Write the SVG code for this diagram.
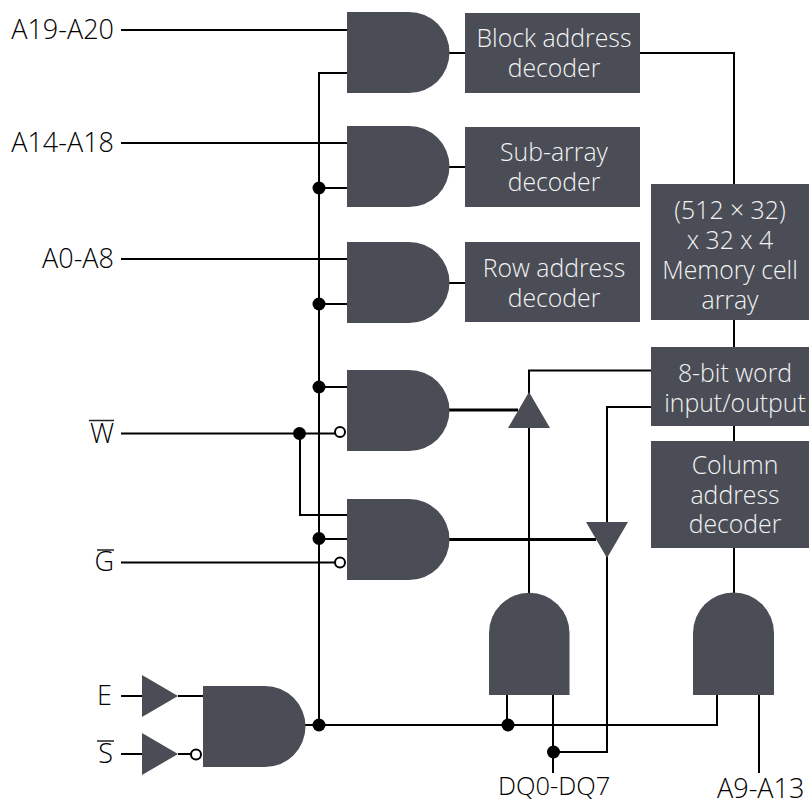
<svg xmlns="http://www.w3.org/2000/svg" width="809" height="799" viewBox="0 0 809 799">
<style>
.b{fill:#4a4d55}
.w{fill:none;stroke:#000;stroke-width:2;stroke-linejoin:miter}
.k{stroke-width:3}
.d{fill:#000}
.o{fill:#fff;stroke:#000;stroke-width:2}
text{font-family:"Open Sans","Noto Sans",sans-serif;font-size:24.800px;font-weight:300}
.t{fill:#f2f3f4;text-anchor:middle}
.l{fill:#000;text-anchor:end;font-size:27px}
.n{fill:#000;font-size:25.500px}
.m{fill:#000;font-size:27px}
.ov{fill:none;stroke:#222;stroke-width:1.5}
</style>
<defs>
<path id="andH" class="b" d="M0 0H62A40.500 40.500 0 0 1 62 81H0Z"/>
</defs>
<rect width="809" height="799" fill="#fff"/>
<g id="connectors">
<path class="w" d="M121 30H347"/>
<path class="w" d="M347 73H319V726"/>
<path class="w" d="M121 143H347"/>
<path class="w" d="M319 188H347"/>
<path class="w" d="M121 259H347"/>
<path class="w" d="M319 304H347"/>
<path class="w" d="M319 387H347"/>
<path class="w" d="M121 433.500H335"/>
<path class="w" d="M300 433V515H347"/>
<path class="w" d="M319 539H347"/>
<path class="w" d="M121 562.500H335"/>
<path class="w" d="M449 53H465"/>
<path class="w" d="M449 167H465"/>
<path class="w" d="M449 283H465"/>
<path class="w" d="M640 53H734V184"/>
<path class="w" d="M734 320V348"/>
<path class="w" d="M734 425V441"/>
<path class="w" d="M734 548V593"/>
<path class="w" d="M651 370.500H529V593"/>
<path class="w" d="M651 407H607V752H554"/>
<path class="w k" d="M449 410H518"/>
<path class="w k" d="M449 539.500H596"/>
<path class="w" d="M121 696H143"/>
<path class="w" d="M178 696H204"/>
<path class="w" d="M121 754H143"/>
<path class="w" d="M178 754H192"/>
<path class="w" d="M305 725H717V695"/>
<path class="w" d="M507 695V725"/>
<path class="w" d="M553 695V773"/>
<path class="w" d="M759 695V773"/>
</g>
<g id="gate-1"><use href="#andH" x="347" y="12"/></g>
<g id="gate-2"><use href="#andH" x="347" y="126"/></g>
<g id="gate-3"><use href="#andH" x="347" y="242"/></g>
<g id="gate-4"><use href="#andH" x="347" y="370"/></g>
<g id="gate-5"><use href="#andH" x="347" y="499"/></g>
<g id="gate-6"><path class="b" d="M203 686H265A40.500 40.500 0 0 1 265 767H203Z"/></g>
<g id="gate-7"><path class="b" d="M489 695V633A40 40 0 0 1 569.500 633V695Z"/></g>
<g id="gate-8"><path class="b" d="M693 695V633A40.500 40.500 0 0 1 774 633V695Z"/></g>
<g id="buffer-up"><path class="b" d="M529 392L508 428H550Z"/></g>
<g id="buffer-down"><path class="b" d="M586 522H628L607 558Z"/></g>
<g id="buffer-e"><path class="b" d="M142 675L178 696L142 717Z"/></g>
<g id="buffer-s"><path class="b" d="M142 733L178 754L142 775Z"/></g>
<g id="block-address"><rect class="b" x="465" y="13" width="175" height="80"/><text class="t" x="554" y="47">Block address</text><text class="t" x="554" y="77">decoder</text></g>
<g id="sub-array"><rect class="b" x="465" y="127" width="175" height="80"/><text class="t" x="554" y="161">Sub-array</text><text class="t" x="554" y="191">decoder</text></g>
<g id="row-address"><rect class="b" x="465" y="242" width="175" height="80"/><text class="t" x="554" y="277">Row address</text><text class="t" x="554" y="307">decoder</text></g>
<g id="memory"><rect class="b" x="651" y="184" width="158" height="136"/><text class="t" x="730" y="219">(512 × 32)</text><text class="t" x="730" y="249">x 32 x 4</text><text class="t" x="730" y="279">Memory cell</text><text class="t" x="730" y="309">array</text></g>
<g id="word-io"><rect class="b" x="651" y="347" width="158" height="79"/><text class="t" x="735" y="382">8-bit word</text><text class="t" x="735" y="412">input/output</text></g>
<g id="column"><rect class="b" x="651" y="441" width="158" height="107"/><text class="t" x="735" y="474">Column</text><text class="t" x="735" y="504">address</text><text class="t" x="735" y="533">decoder</text></g>
<g id="junctions">
<circle class="d" cx="319" cy="188" r="6.500"/>
<circle class="d" cx="319" cy="304" r="6.500"/>
<circle class="d" cx="319" cy="387" r="6.500"/>
<circle class="d" cx="299.500" cy="433.500" r="6.500"/>
<circle class="d" cx="319" cy="538.500" r="6.500"/>
<circle class="d" cx="319" cy="725" r="6.500"/>
<circle class="d" cx="508" cy="725" r="6.500"/>
<circle class="d" cx="553.500" cy="752" r="6.500"/>
<circle class="o" cx="340" cy="432" r="5"/>
<circle class="o" cx="340" cy="562.500" r="5"/>
<circle class="o" cx="196" cy="754.500" r="5"/>
</g>
<g id="labels">
<text class="l" x="114" y="39">A19-A20</text>
<text class="l" x="114" y="152">A14-A18</text>
<text class="l" x="114" y="268">A0-A8</text>
<text class="l" x="114" y="443">W</text><path class="ov" d="M89 420.500H114"/>
<text class="l" x="114" y="571">G</text><path class="ov" d="M97 550H114"/>
<text class="l" x="112" y="705">E</text>
<text class="l" x="113" y="763">S</text><path class="ov" d="M97 741H114"/>
<text class="n" x="498" y="795">DQ0-DQ7</text>
<text class="m" x="717" y="798">A9-A13</text>
</g>
</svg>
